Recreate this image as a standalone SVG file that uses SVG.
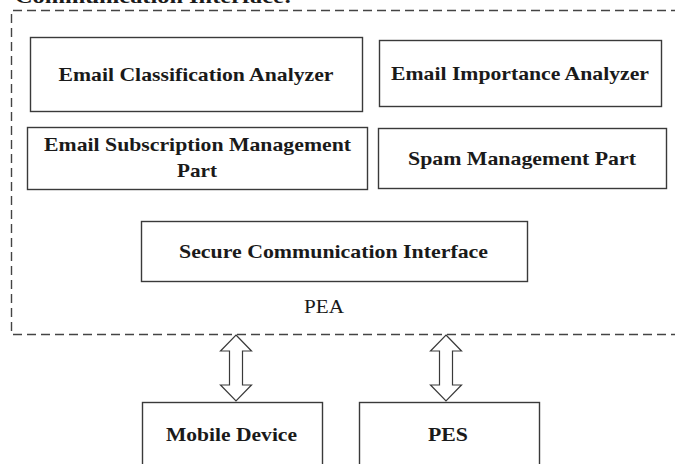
<svg xmlns="http://www.w3.org/2000/svg" width="675" height="464" viewBox="0 0 675 464">
  <style>
    .box { fill: #ffffff; stroke: #3a3a3a; stroke-width: 1.4; }
    .lbl { font-family: "Liberation Serif", "Times New Roman", serif; font-weight: bold; font-size: 19px; fill: #1a1a1a; text-anchor: middle; }
    .plain { font-family: "Liberation Serif", "Times New Roman", serif; font-size: 19px; fill: #1a1a1a; text-anchor: middle; }
    .frame { fill: none; stroke: #444; stroke-width: 1.4; stroke-dasharray: 9 5; }
    .dblarrow { fill: #ffffff; stroke: #3a3a3a; stroke-width: 1.2; stroke-linejoin: miter; }
  </style>
  <rect width="675" height="464" fill="#ffffff"/>

  <!-- heading partly above the canvas -->
  <text x="15" y="2.5" class="lbl" style="text-anchor:start" textLength="277" lengthAdjust="spacingAndGlyphs">Communication Interface:</text>

  <!-- PEA boundary -->
  <g id="pea">
    <path class="frame" d="M680 10.5 H11.5 V334.5 H680"/>
    <text x="324" y="313" class="plain" textLength="40" lengthAdjust="spacingAndGlyphs">PEA</text>
  </g>

  <g id="email-classification-analyzer">
    <rect class="box" x="30.5" y="37.5" width="332" height="74"/>
    <text x="196" y="81" class="lbl" textLength="275" lengthAdjust="spacingAndGlyphs">Email Classification Analyzer</text>
  </g>

  <g id="email-importance-analyzer">
    <rect class="box" x="379.5" y="40.5" width="282" height="66"/>
    <text x="520" y="80" class="lbl" textLength="258" lengthAdjust="spacingAndGlyphs">Email Importance Analyzer</text>
  </g>

  <g id="email-subscription-management-part">
    <rect class="box" x="27.5" y="127.5" width="340" height="62"/>
    <text x="197.5" y="151" class="lbl" textLength="307" lengthAdjust="spacingAndGlyphs">Email Subscription Management</text>
    <text x="197" y="177" class="lbl" textLength="40" lengthAdjust="spacingAndGlyphs">Part</text>
  </g>

  <g id="spam-management-part">
    <rect class="box" x="378.5" y="128.5" width="288" height="60"/>
    <text x="522" y="165" class="lbl" textLength="228" lengthAdjust="spacingAndGlyphs">Spam Management Part</text>
  </g>

  <g id="secure-communication-interface">
    <rect class="box" x="141.5" y="221.5" width="386" height="60"/>
    <text x="333.5" y="258" class="lbl" textLength="309" lengthAdjust="spacingAndGlyphs">Secure Communication Interface</text>
  </g>

  <g id="mobile-device">
    <rect class="box" x="142.5" y="402.5" width="180" height="80"/>
    <text x="231.5" y="441" class="lbl" textLength="131" lengthAdjust="spacingAndGlyphs">Mobile Device</text>
  </g>

  <g id="pes">
    <rect class="box" x="359.5" y="402.5" width="180" height="80"/>
    <text x="448" y="441" class="lbl" textLength="40" lengthAdjust="spacingAndGlyphs">PES</text>
  </g>

  <!-- two-way block arrows between PEA and the outside parts -->
  <g id="connectors">
    <path class="dblarrow" d="M236 335 L251.5 351 H242.5 V385 H251.5 L236 401 L220.5 385 H229.5 V351 H220.5 Z"/>
    <path class="dblarrow" d="M446 335 L461.5 351 H452.5 V385 H461.5 L446 401 L430.5 385 H439.5 V351 H430.5 Z"/>
  </g>
</svg>
